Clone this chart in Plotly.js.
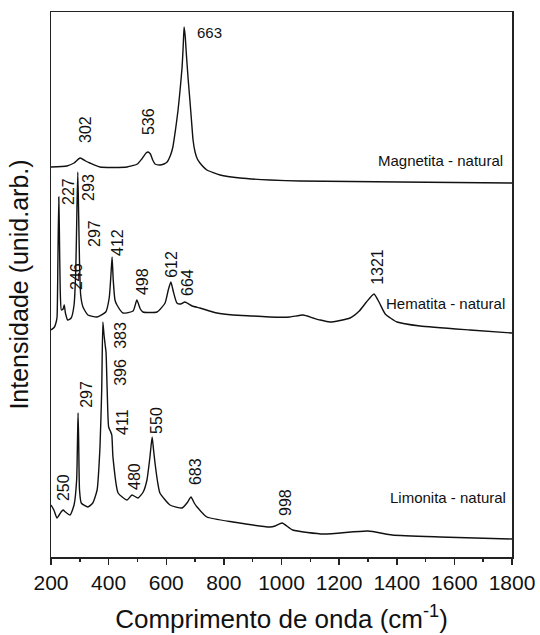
<!DOCTYPE html>
<html>
<head>
<meta charset="utf-8">
<script src="https://cdn.plot.ly/plotly-3.0.1.min.js"></script>
<style>html,body{margin:0;padding:0;background:#fff;}#chart{width:540px;height:635px;}</style>
</head>
<body>
<div id="chart"></div>
<script>
// Wavenumbers (cm-1) and relative intensities (arbitrary, stacked offsets included)
const magX = [200,255,280,301,320,335,370,464,500,515,530,537,545,553,561,578,592,603,615,623,632,641,648,655,659,662,666,670,676,682,688,693,700,708,717,741,787,856,960,1064,1411,1800];
const magY = [390,391,394,399,396,394,390,390,393,398,404,405,403,397,393,392,393,395,402,410,427,447,467,490,512,530,520,502,478,457,435,417,405,398,394,387,382,379,377,376,375,374];

const hemX = [200,212,218,221,224,227,229,232,236,242,246,250,258,270,280,286,290,293,296,299,303,311,328,360,390,402,408,412,416,422,429,450,485,498,510,519,568,596,607,616,625,637,650,665,690,717,776,832,900,960,1029,1075,1110,1134,1168,1238,1270,1295,1321,1340,1360,1401,1481,1654,1800];
const hemY = [227,230,235,240,297,360,327,267,247,248,252,244,237,239,252,287,347,385,342,295,262,250,242,240,245,259,282,300,277,257,252,244,246,257,248,245,245,254,267,275,265,254,253,255,251,249,244,242,241,240,240,242,239,237,235,239,246,255,263,254,243,235,231,227,224];

const limX = [200,210,221,235,242,250,266,280,289,292,294,296,299,305,328,345,360,370,376,380,384,388,391,395,400,406,411,415,433,464,481,502,520,533,543,551,556,561,570,578,613,655,672,686,697,707,741,832,960,978,1002,1039,1146,1300,1384,1550,1800];
const limY = [52,47,39,45,47,45,42,52,77,117,144,117,67,54,50,54,67,110,167,235,222,212,205,167,130,126,122,100,64,57,62,59,65,77,99,120,107,94,75,64,52,49,54,60,54,50,40,35,30,31,34,27,23,26,22,20,18];

const seriesNames = ['Magnetita - natural','Hematita - natural','Limonita - natural'];
const xTicks = [200,400,600,800,1000,1200,1400,1600,1800];

const FONT = 'Liberation Sans, Arial, Helvetica, sans-serif';
const line = {color:'#111', width:1.4, shape:'spline', smoothing:0.5};

const traces = [
  {x:magX, y:magY, name:seriesNames[0], mode:'lines', line:line},
  {x:hemX, y:hemY, name:seriesNames[1], mode:'lines', line:line},
  {x:limX, y:limY, name:seriesNames[2], mode:'lines', line:line}
];

function rot(text, x, y){
  return {text:text, x:x, y:y, xref:'x', yref:'y', showarrow:false, textangle:-90,
          xanchor:'center', yanchor:'middle', font:{family:FONT, size:16, color:'#111'}};
}
function hor(text, x, y, anchor){
  return {text:text, x:x, y:y, xref:'x', yref:'y', showarrow:false,
          xanchor:anchor, yanchor:'middle', font:{family:FONT, size:15, color:'#111'}};
}

const annotations = [
  rot('302',318,427), rot('536',537,435), hor('663',700,525,'left'),
  hor(seriesNames[0],1776,397,'right'),
  rot('227',259,365), rot('293',328,370), rot('297',349,324), rot('246',287,280),
  rot('412',429,315), rot('498',516,275), rot('612',616,293), rot('664',672,274),
  rot('1321',1331,290),
  hor(seriesNames[1],1783,254,'right'),
  rot('383',439,222), rot('396',439,185), rot('411',446,135), rot('297',321,163),
  rot('550',564,137), rot('480',488,81), rot('250',242,69), rot('683',700,85),
  rot('998',1012,55),
  hor(seriesNames[2],1786,60,'right')
];

const layout = {
  width:540, height:635,
  margin:{l:51, r:28, t:12, b:78},
  paper_bgcolor:'#fff', plot_bgcolor:'#fff',
  showlegend:false,
  font:{family:FONT, color:'#111'},
  xaxis:{
    range:[200,1800], tickvals:xTicks, ticktext:xTicks.map(String),
    ticks:'outside', ticklen:6, tickwidth:1.5, tickcolor:'#222',
    minor:{dtick:100, tick0:200, ticks:'outside', ticklen:3, tickwidth:1.5, tickcolor:'#222', showgrid:false},
    showline:true, linewidth:1.5, linecolor:'#222', mirror:true,
    showgrid:false, zeroline:false,
    tickfont:{family:FONT, size:21, color:'#111'},
    title:{text:'Comprimento de onda (cm<sup>-1</sup>)', font:{family:FONT, size:26, color:'#111'}, standoff:17}
  },
  yaxis:{
    range:[0,545], showticklabels:false, ticks:'',
    showline:true, linewidth:1.5, linecolor:'#222', mirror:true,
    showgrid:false, zeroline:false,
    title:{text:'Intensidade (unid.arb.)', font:{family:FONT, size:25, color:'#111'}, standoff:14}
  },
  annotations:annotations
};

Plotly.newPlot('chart', traces, layout, {displayModeBar:false, staticPlot:true});
</script>
</body>
</html>
